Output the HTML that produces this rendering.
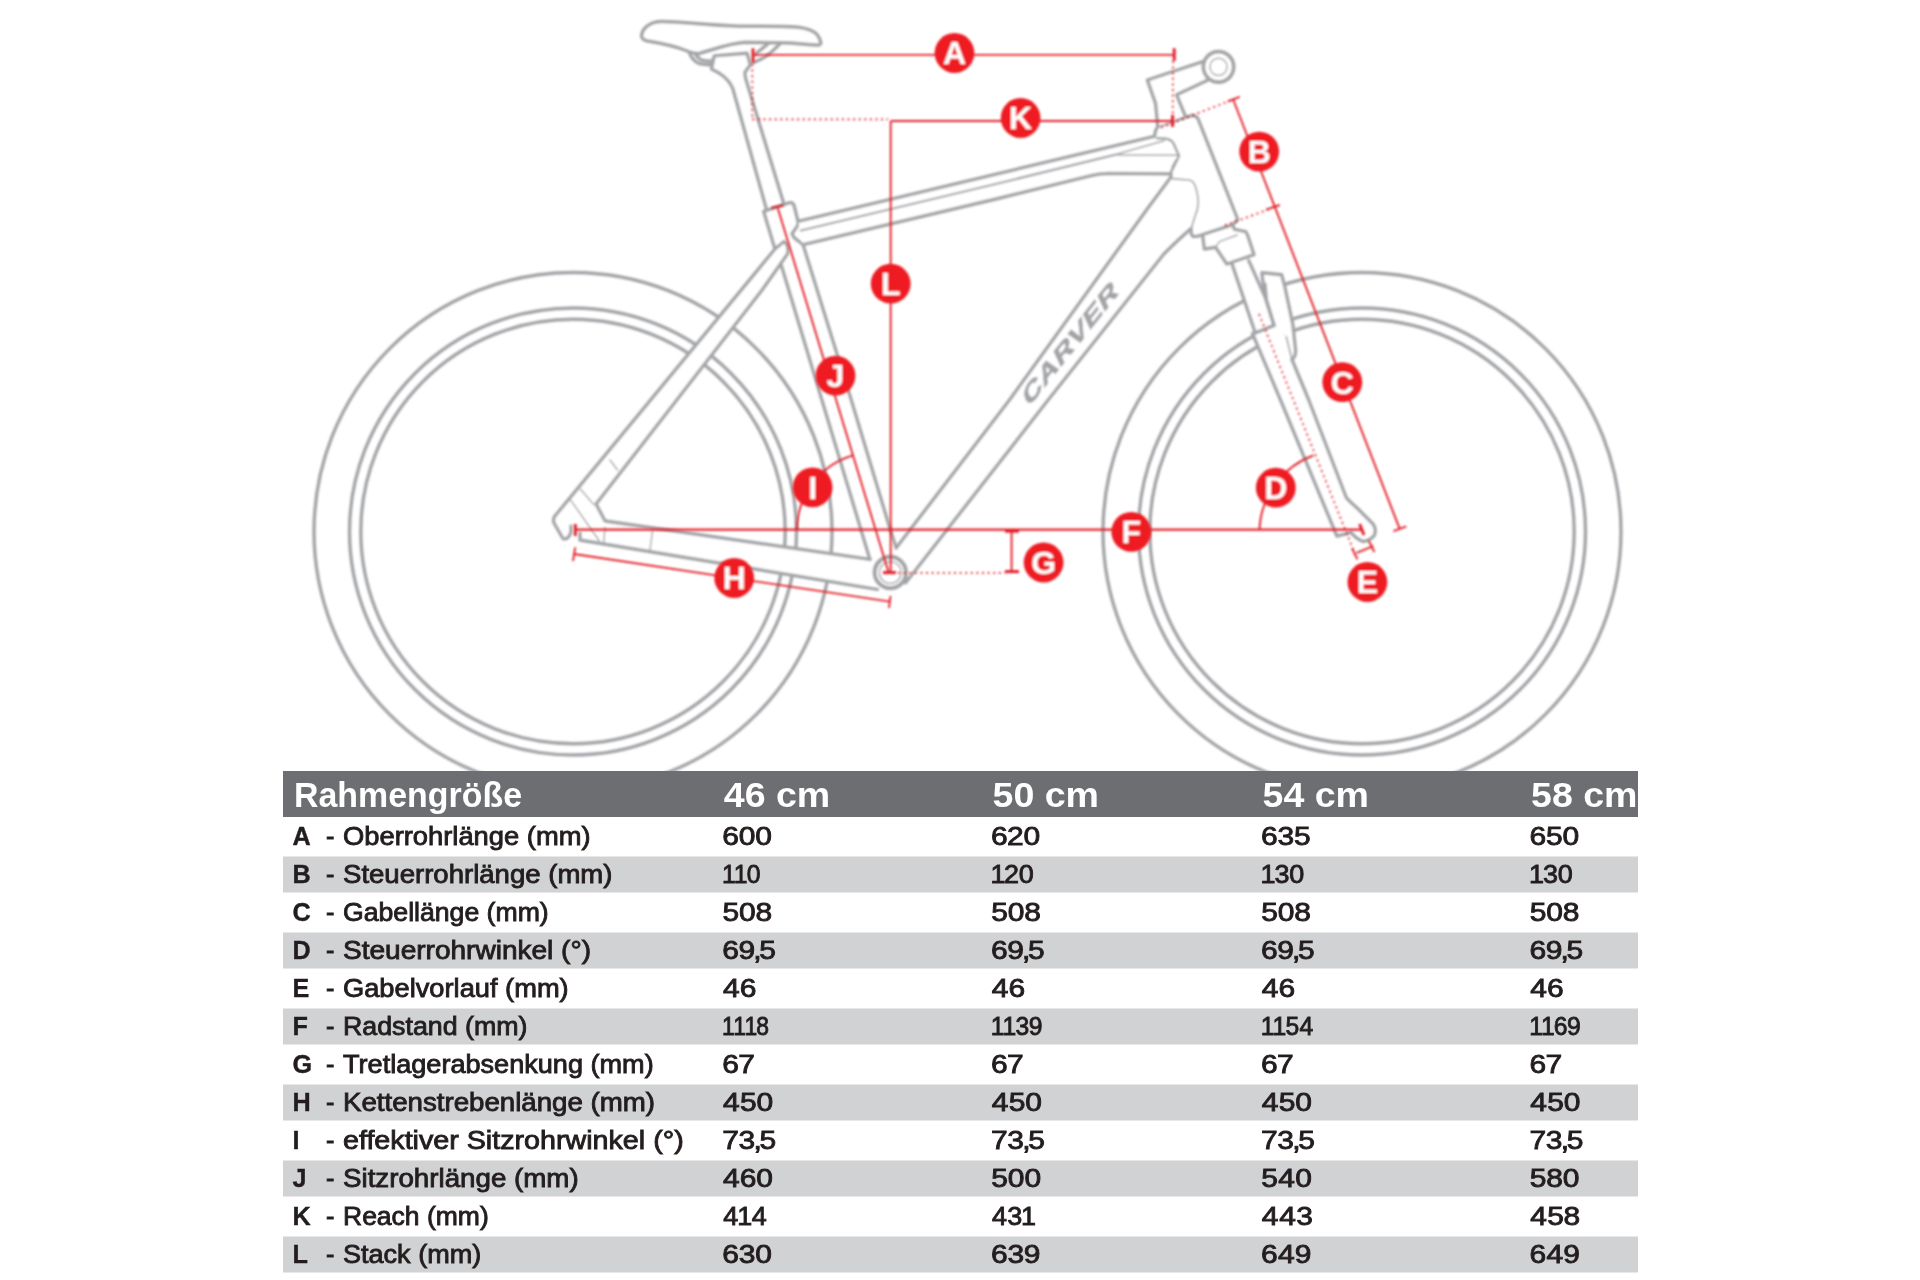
<!DOCTYPE html>
<html lang="de"><head><meta charset="utf-8"><title>Rahmengeometrie</title>
<style>
html,body{margin:0;padding:0;background:#fff;}
body{width:1920px;height:1280px;overflow:hidden;}
svg{display:block;font-family:"Liberation Sans",sans-serif;}
.g{fill:none;stroke:#a3a4a7;stroke-width:3.4;stroke-linejoin:round;stroke-linecap:round;}
.f{fill:#fff;}
.fl{fill:#fff;stroke:none;}
.w{fill:none;}
.t{fill:none;stroke:#a3a4a7;stroke-width:1.4;stroke-linecap:round;stroke-linejoin:round;}
.t2{fill:none;stroke:#a3a4a7;stroke-width:1.7;stroke-linecap:round;stroke-linejoin:round;}
.r{fill:none;stroke:#e3202a;stroke-width:1.9;}
.rt{fill:none;stroke:#e3202a;stroke-width:3;}
.rd{fill:none;stroke:#e3202a;stroke-width:1.7;stroke-dasharray:2 3.6;}
.rc{fill:#ee1c24;}
.rl{fill:#fff;font-weight:bold;font-size:32px;text-anchor:middle;}
.logo{fill:#a3a4a7;stroke:#a3a4a7;stroke-width:0.7px;font-weight:bold;font-size:22px;letter-spacing:0.6px;}
.th{fill:#fff;font-weight:bold;font-size:35px;}
.tb{fill:#231f20;font-weight:bold;font-size:25.2px;stroke:#231f20;stroke-width:0.4px;}
.td{fill:#231f20;font-size:25.2px;stroke:#231f20;stroke-width:0.85px;}
</style></head>
<body>
<svg width="1920" height="1280" viewBox="0 0 1920 1280">
<defs><filter id="soft" x="0" y="0" width="1920" height="1280" filterUnits="userSpaceOnUse"><feGaussianBlur stdDeviation="0.9"/></filter><filter id="soft2" x="0" y="0" width="1920" height="1280" filterUnits="userSpaceOnUse"><feGaussianBlur stdDeviation="0.45"/></filter></defs>
<rect width="1920" height="1280" fill="#fff"/>
<g id="bike" filter="url(#soft)">
<circle class="g w" cx="573" cy="531.5" r="259" />
<circle class="g w" cx="573" cy="531.5" r="223.5" />
<circle class="g w" cx="573" cy="531.5" r="212.2" />
<circle class="g w" cx="1362" cy="531.5" r="259" />
<circle class="g w" cx="1362" cy="531.5" r="223.5" />
<circle class="g w" cx="1362" cy="531.5" r="212.2" />
<path class="fl" d="M1252.5,333.5 L1280.6,400 L1336.9,536 L1349,533 L1351,532 Q1355,538 1363,541.5 Q1371,540 1374.5,535 Q1376.5,529 1373,524 L1368,519 L1357,508 Q1348,500 1346.2,497.5 L1308.7,400 L1291.9,359.5 L1286.3,336.6 L1274,325.3 L1256,332.3 Z" />
<path class="g" d="M1274,325.3 L1256,332.3 L1252.5,333.5 L1280.6,400 L1336.9,536 L1349,533 L1351,532 Q1355,538 1363,541.5 Q1371,540 1374.5,535 Q1376.5,529 1373,524 L1368,519 L1357,508 Q1348,500 1346.2,497.5 L1308.7,400 L1291.9,359.5" />
<path class="fl" d="M1231.9,263.4 L1255.3,332.8 L1274,325.3 L1264.7,296.2 L1248.7,260.6 Z" />
<path class="g" d="M1231.9,263.4 L1255.3,332.8" />
<path class="g" d="M1248.7,260.6 L1264.7,296.2" />
<path class="g" d="M1255.3,332.8 L1274,325.3" />
<path class="fl" d="M1261.9,272.8 L1281.6,274.7 L1284.4,285 L1292.8,324.4 L1295.6,350.6 Q1295.6,357 1291.9,359.5 L1286.3,336.6 L1274,325.3 L1264.7,296 Z" />
<path class="g" d="M1274,325.3 L1264.7,296 L1261.9,272.8 L1281.6,274.7 L1284.4,285 L1292.8,324.4 L1295.6,350.6 Q1295.6,357 1291.9,359.5" />
<path class="g" d="M1264.9,284 L1266.5,300 L1274,325.3" />
<line class="t2" x1="1286.3" y1="336.6" x2="1291.3" y2="357" />
<path class="g f" d="M1202.5,234.5 L1232.5,224.7 L1234.4,229.4 L1245.6,231.7 L1247.5,235 L1254,254.7 L1226.9,264 L1215.6,247.2 L1204.4,249 L1203,237.8 Z" />
<path class="t" d="M1215.6,247.2 L1219.4,241.6 L1237.2,235" />
<path class="g f" d="M733,89 L767,211 L784,204.5 L746,80 Q744.5,75 745,72 L750.3,64.7 L747,53.2 L714.2,55.9 L711.5,69 Q718,72 722,75 Q730,81 733,89 Z" />
<path class="g" d="M689,51.6 Q691,58 695.6,61.4 Q699,65 711,64.7" />
<path class="g" d="M694.5,52.7 Q696,56 700,59.2 Q703,61.4 712,60.9" />
<path class="g" d="M767.8,43.9 L755.8,53.7" />
<path class="g" d="M779.8,43.9 Q772,52 766.7,55.9 Q760,60 753.6,62.5" />
<path class="g f" d="M641.6,36 C642,28 650,21.6 662,21.5 C680,21.5 700,24.6 740,26.3 L783,26.4 C800,26.4 812,28.5 817,34.5 C821,40 822,44.8 818.5,45 C810,45 795,42.9 783,42.8 L745,42.3 C730,43 715,49 700,53.2 C695,54.2 690,52.2 686,50.5 C675,46 660,43 648,41 C643,40 641.6,38.5 641.6,36 Z" style="stroke-width:3.5"/>
<path class="fl" d="M605,521 L870,559.4 L885,590 L877.5,589.4 L580,540 L571,527 Z" />
<path class="g" d="M580,533 L580,540 L877.5,589.4" />
<path class="fl" d="M763.75,211.4 L789,202.8 Q793,202 794,205.5 L798,221.5 Q798.5,225 796,228 L792,233.4 Q793,238 798.4,241 L803,244.7 L851.2,400 L890.6,531 L896.2,548 L870,559.4 L781.6,266 L775,249 Z" />
<path class="g" d="M870,559.4 L781.6,266 L775,249 L763.75,211.4 L789,202.8 Q793,202 794,205.5 L798,221.5 Q798.5,225 796,228 L792,233.4 Q793,238 798.4,241 L803,244.7 L851.2,400 L890.6,531 L896.2,548" />
<path class="fl" d="M798,221.3 L1154.5,136.3 L1155.6,130.8 L1157.8,126.4 L1191.7,115.5 Q1196,115.5 1198,118.8 L1237.7,219.5 L1232.5,224.7 L1202.5,234.5 L1197,236.4 L1193,236.4 Q1190.5,234 1191.2,228.4 Q1180,238 1164,253.7 L1048,400 L905.6,582.8 L896.2,548 L1009.5,400 L1148,208 Q1160,192 1171,177 L1171,173.8 L1108,173.4 Q1098,173.6 1090,175.8 L1000,198 L803,244.7 Z" />
<path class="g" d="M798,221.3 L1154.5,136.3 L1155.6,130.8 L1157.8,126.4 L1191.7,115.5 Q1196,115.5 1198,118.8 L1237.7,219.5 L1232.5,224.7 L1202.5,234.5 L1197,236.4 L1193,236.4 Q1190.5,234 1191.2,228.4 Q1180,238 1164,253.7 L1048,400 L905.6,582.8" />
<path class="g" d="M896.2,548 L1009.5,400 L1148,208 Q1160,192 1171,177 L1171,173.8 L1108,173.4 Q1098,173.6 1090,175.8 L1000,198 L803,244.7" />
<path class="g" d="M801,230.5 L1000,183 L1114.6,154.8" style="stroke-width:2.3"/>
<path class="t2" d="M1114.6,154.8 L1164,140.8" />
<path class="t" d="M1114.6,155 L1178.6,155.3" />
<path class="g" d="M1157,138.3 Q1165,138 1169,139.4 Q1172,140.5 1173.3,143 L1179,155.8 L1175,164.2 L1170.8,172.5 L1171,177" style="stroke-width:2.6"/>
<path class="t2" d="M1171,172 Q1172,166 1176,160" />
<path class="t2" d="M1172,178.7 Q1180,179.7 1189.4,180 Q1193,181 1194,183.4 Q1197.5,190 1198.3,202 Q1198,210 1195,216.3 L1191.2,228.4" />
<path class="g f" d="M1157.8,126.4 L1155.6,103.4 L1147.4,80 L1203.7,61.3 L1208,80 L1176.4,94.7 L1185,115.5" />
<circle class="g f" cx="1218.5" cy="66.8" r="15.2" style="stroke-width:3.8"/>
<circle class="t" cx="1218.5" cy="66.8" r="8.6" />
<path class="fl" d="M775,249 L784,241.5 Q789.5,245 787.5,254 L762,290 L596,504 L605,521 L571,527 L571,532 Q568,540 563,538.5 L553.8,522.5 Q553,518 555,516 Z" />
<path class="g" d="M571,526 L571,532 Q568,540.5 563,538.5 L553.8,522.5 Q553,518 555,516 L775,249 L784,241.5 Q789.5,245 787.5,254 L762,290 L596,504 L605,521 L870,559.4" />
<path class="t" d="M570.8,500.3 L599.4,541" />
<path class="t" d="M580.6,489.2 L593.8,504.6" />
<path class="t" d="M605,527.5 L603.7,542.5" />
<path class="t" d="M652.5,531 L650,550" />
<path class="t" d="M610,460 L617.5,470" />
<circle class="g f" cx="890.3" cy="572.5" r="15.7" style="stroke-width:4.2"/>
<circle class="t" cx="890.3" cy="572.5" r="10.9" />
<text class="logo" transform="translate(1028.5,407.5) rotate(-51.5) scale(1.52,1) skewX(-18)" x="0" y="0">CARVER</text>
</g>
<g id="dims" filter="url(#soft)">
<line class="r" x1="753" y1="54.9" x2="1174.2" y2="54.9" />
<line class="rt" x1="753" y1="48.3" x2="753" y2="62.5" />
<line class="rt" x1="1174.2" y1="48.2" x2="1174.2" y2="60.8" />
<line class="rd" x1="752.3" y1="64" x2="752.3" y2="119.4" />
<line class="rd" x1="752.3" y1="119.4" x2="888" y2="119.4" />
<line class="rd" x1="1173" y1="61" x2="1172.7" y2="115" />
<line class="rt" x1="1172.6" y1="115" x2="1172.6" y2="127" />
<line class="r" x1="890.7" y1="121" x2="1172.6" y2="121" />
<line class="r" x1="890.7" y1="121" x2="890.7" y2="572.6" />
<line class="rt" x1="883" y1="572.6" x2="896" y2="572.6" />
<line class="r" x1="1233" y1="99" x2="1399.5" y2="528.4" />
<line class="r" x1="1227.8" y1="101.3" x2="1239.8" y2="96.9" />
<line class="r" x1="1266" y1="209.7" x2="1279.8" y2="205" />
<line class="r" x1="1393.5" y1="531.2" x2="1406.3" y2="526.3" />
<line class="rd" x1="1161" y1="127.5" x2="1234.4" y2="99" />
<line class="rd" x1="1225" y1="225.6" x2="1272.8" y2="207.8" />
<line class="rd" x1="1259" y1="314" x2="1355.6" y2="555.6" />
<path class="r" d="M1313.4,455.3 A83,83 0 0 0 1259.5,529.6" />
<line class="r" x1="1356.6" y1="552.8" x2="1373.4" y2="546.2" />
<line class="r" x1="1351.9" y1="548" x2="1357.5" y2="559.4" />
<line class="r" x1="1368.7" y1="540.6" x2="1374.4" y2="552" />
<line class="r" x1="575" y1="529.7" x2="1361.2" y2="529.7" style="stroke-width:2.3"/>
<line class="rt" x1="575.3" y1="524" x2="575.3" y2="536" />
<line class="rt" x1="1359.6" y1="524" x2="1364" y2="535" />
<line class="r" x1="1011.6" y1="531" x2="1011.6" y2="571.6" />
<line class="rt" x1="1005" y1="531.2" x2="1019" y2="531.2" />
<line class="rt" x1="1005" y1="571.6" x2="1019" y2="571.6" />
<line class="rd" x1="898" y1="572.8" x2="1005" y2="572.8" />
<line class="r" x1="574" y1="554" x2="889.7" y2="601.6" />
<line class="r" x1="575.2" y1="547.5" x2="573" y2="561" />
<line class="r" x1="890.5" y1="596" x2="889" y2="608" />
<path class="r" d="M853.1,455.3 A78,78 0 0 0 797,529.6" />
<line class="r" x1="777.8" y1="208" x2="888.4" y2="571.8" />
<line class="r" x1="771.2" y1="208" x2="783.4" y2="205.3" />
<circle class="rc" cx="954.5" cy="53" r="19.9"/>
<text class="rl" x="954.5" y="64.4">A</text>
<circle class="rc" cx="1020.6" cy="118" r="19.9"/>
<text class="rl" x="1020.6" y="129.4">K</text>
<circle class="rc" cx="1259.2" cy="151.6" r="19.9"/>
<text class="rl" x="1259.2" y="163.0">B</text>
<circle class="rc" cx="890.7" cy="283.7" r="19.9"/>
<text class="rl" x="890.7" y="295.09999999999997">L</text>
<circle class="rc" cx="835.5" cy="375.7" r="19.9"/>
<text class="rl" x="835.5" y="387.09999999999997">J</text>
<circle class="rc" cx="1342.3" cy="382.2" r="19.9"/>
<text class="rl" x="1342.3" y="393.59999999999997">C</text>
<circle class="rc" cx="812.6" cy="487.3" r="19.9"/>
<text class="rl" x="812.6" y="498.7">I</text>
<circle class="rc" cx="1275.8" cy="487.7" r="19.9"/>
<text class="rl" x="1275.8" y="499.09999999999997">D</text>
<circle class="rc" cx="1131.3" cy="531.9" r="19.9"/>
<text class="rl" x="1131.3" y="543.3">F</text>
<circle class="rc" cx="1043.6" cy="562.5" r="19.9"/>
<text class="rl" x="1043.6" y="573.9">G</text>
<circle class="rc" cx="734.2" cy="578" r="19.9"/>
<text class="rl" x="734.2" y="589.4">H</text>
<circle class="rc" cx="1367.4" cy="582" r="19.9"/>
<text class="rl" x="1367.4" y="593.4">E</text>
</g>
<g id="table">
<rect x="283" y="771" width="1355" height="46" fill="#6d6e71"/>
<rect x="283" y="856.5" width="1355" height="36" fill="#d1d2d4"/>
<rect x="283" y="932.5" width="1355" height="36" fill="#d1d2d4"/>
<rect x="283" y="1008.5" width="1355" height="36" fill="#d1d2d4"/>
<rect x="283" y="1084.5" width="1355" height="36" fill="#d1d2d4"/>
<rect x="283" y="1160.5" width="1355" height="36" fill="#d1d2d4"/>
<rect x="283" y="1236.5" width="1355" height="36" fill="#d1d2d4"/>
<clipPath id="tc"><rect x="283" y="771" width="1355" height="509"/></clipPath>
<g clip-path="url(#tc)" filter="url(#soft2)">
<text class="th" x="294" y="806.5" textLength="228" lengthAdjust="spacingAndGlyphs">Rahmengröße</text>
<text class="th" x="723.75" y="806.5" textLength="106.5" lengthAdjust="spacingAndGlyphs">46 cm</text>
<text class="th" x="992.5" y="806.5" textLength="106.5" lengthAdjust="spacingAndGlyphs">50 cm</text>
<text class="th" x="1262.5" y="806.5" textLength="106.5" lengthAdjust="spacingAndGlyphs">54 cm</text>
<text class="th" x="1531" y="806.5" textLength="106.5" lengthAdjust="spacingAndGlyphs">58 cm</text>
<text class="tb" x="292.5" y="844.5">A</text>
<text class="td" x="326" y="844.5">-</text>
<text class="td" x="343" y="844.5" textLength="247.5" lengthAdjust="spacingAndGlyphs">Oberrohrlänge (mm)</text>
<text class="td" transform="translate(723.75,844.5) scale(1.19,1)" x="-1.28 12.58 26.56" y="0">600</text>
<text class="td" transform="translate(992.5,844.5) scale(1.19,1)" x="-1.28 12.29 25.99" y="0">620</text>
<text class="td" transform="translate(1262.5,844.5) scale(1.19,1)" x="-1.28 12.60 26.43" y="0">635</text>
<text class="td" transform="translate(1531,844.5) scale(1.19,1)" x="-1.28 12.55 26.46" y="0">650</text>
<text class="tb" x="292.5" y="882.5">B</text>
<text class="td" x="326" y="882.5">-</text>
<text class="td" x="343" y="882.5" textLength="269.5" lengthAdjust="spacingAndGlyphs">Steuerrohrlänge (mm)</text>
<text class="td" transform="translate(723.75,882.5) scale(0.98,1)" x="-1.92 10.27 23.40" y="0">110</text>
<text class="td" transform="translate(992.5,882.5) scale(1.07,1)" x="-1.92 10.81 24.51" y="0">120</text>
<text class="td" transform="translate(1262.5,882.5) scale(1.07,1)" x="-1.92 11.12 24.98" y="0">130</text>
<text class="td" transform="translate(1531,882.5) scale(1.07,1)" x="-1.92 11.12 24.98" y="0">130</text>
<text class="tb" x="292.5" y="920.5">C</text>
<text class="td" x="326" y="920.5">-</text>
<text class="td" x="343" y="920.5" textLength="205.7" lengthAdjust="spacingAndGlyphs">Gabellänge (mm)</text>
<text class="td" transform="translate(723.75,920.5) scale(1.19,1)" x="-1.01 12.90 26.76" y="0">508</text>
<text class="td" transform="translate(992.5,920.5) scale(1.19,1)" x="-1.01 12.90 26.76" y="0">508</text>
<text class="td" transform="translate(1262.5,920.5) scale(1.19,1)" x="-1.01 12.90 26.76" y="0">508</text>
<text class="td" transform="translate(1531,920.5) scale(1.19,1)" x="-1.01 12.90 26.76" y="0">508</text>
<text class="tb" x="292.5" y="958.5">D</text>
<text class="td" x="326" y="958.5">-</text>
<text class="td" x="343" y="958.5" textLength="248" lengthAdjust="spacingAndGlyphs">Steuerrohrwinkel (°)</text>
<text class="td" transform="translate(723.75,958.5) scale(1.19,1)" x="-1.28 12.38 24.87 29.86" y="0">69,5</text>
<text class="td" transform="translate(992.5,958.5) scale(1.19,1)" x="-1.28 12.38 24.87 29.86" y="0">69,5</text>
<text class="td" transform="translate(1262.5,958.5) scale(1.19,1)" x="-1.28 12.38 24.87 29.86" y="0">69,5</text>
<text class="td" transform="translate(1531,958.5) scale(1.19,1)" x="-1.28 12.38 24.87 29.86" y="0">69,5</text>
<text class="tb" x="292.5" y="996.5">E</text>
<text class="td" x="326" y="996.5">-</text>
<text class="td" x="343" y="996.5" textLength="225.7" lengthAdjust="spacingAndGlyphs">Gabelvorlauf (mm)</text>
<text class="td" transform="translate(723.75,996.5) scale(1.19,1)" x="-0.58 13.35" y="0">46</text>
<text class="td" transform="translate(992.5,996.5) scale(1.19,1)" x="-0.58 13.35" y="0">46</text>
<text class="td" transform="translate(1262.5,996.5) scale(1.19,1)" x="-0.58 13.35" y="0">46</text>
<text class="td" transform="translate(1531,996.5) scale(1.19,1)" x="-0.58 13.35" y="0">46</text>
<text class="tb" x="292.5" y="1034.5">F</text>
<text class="td" x="326" y="1034.5">-</text>
<text class="td" x="343" y="1034.5" textLength="184.5" lengthAdjust="spacingAndGlyphs">Radstand (mm)</text>
<text class="td" transform="translate(723.75,1034.5) scale(0.91,1)" x="-1.92 10.37 22.67 35.79" y="0">1118</text>
<text class="td" transform="translate(992.5,1034.5) scale(0.98,1)" x="-1.92 10.27 23.42 37.08" y="0">1139</text>
<text class="td" transform="translate(1262.5,1034.5) scale(0.98,1)" x="-1.92 10.27 23.37 37.69" y="0">1154</text>
<text class="td" transform="translate(1531,1034.5) scale(0.98,1)" x="-1.92 10.27 23.10 36.76" y="0">1169</text>
<text class="tb" x="292.5" y="1072.5">G</text>
<text class="td" x="326" y="1072.5">-</text>
<text class="td" x="343" y="1072.5" textLength="310.7" lengthAdjust="spacingAndGlyphs">Tretlagerabsenkung (mm)</text>
<text class="td" transform="translate(723.75,1072.5) scale(1.19,1)" x="-1.28 12.27" y="0">67</text>
<text class="td" transform="translate(992.5,1072.5) scale(1.19,1)" x="-1.28 12.27" y="0">67</text>
<text class="td" transform="translate(1262.5,1072.5) scale(1.19,1)" x="-1.28 12.27" y="0">67</text>
<text class="td" transform="translate(1531,1072.5) scale(1.19,1)" x="-1.28 12.27" y="0">67</text>
<text class="tb" x="292.5" y="1110.5">H</text>
<text class="td" x="326" y="1110.5">-</text>
<text class="td" x="343" y="1110.5" textLength="312" lengthAdjust="spacingAndGlyphs">Kettenstrebenlänge (mm)</text>
<text class="td" transform="translate(723.75,1110.5) scale(1.19,1)" x="-0.58 13.62 27.53" y="0">450</text>
<text class="td" transform="translate(992.5,1110.5) scale(1.19,1)" x="-0.58 13.62 27.53" y="0">450</text>
<text class="td" transform="translate(1262.5,1110.5) scale(1.19,1)" x="-0.58 13.62 27.53" y="0">450</text>
<text class="td" transform="translate(1531,1110.5) scale(1.19,1)" x="-0.58 13.62 27.53" y="0">450</text>
<text class="tb" x="292.5" y="1148.5">I</text>
<text class="td" x="326" y="1148.5">-</text>
<text class="td" x="343" y="1148.5" textLength="340.7" lengthAdjust="spacingAndGlyphs">effektiver Sitzrohrwinkel (°)</text>
<text class="td" transform="translate(723.75,1148.5) scale(1.19,1)" x="-1.29 12.43 25.00 29.99" y="0">73,5</text>
<text class="td" transform="translate(992.5,1148.5) scale(1.19,1)" x="-1.29 12.43 25.00 29.99" y="0">73,5</text>
<text class="td" transform="translate(1262.5,1148.5) scale(1.19,1)" x="-1.29 12.43 25.00 29.99" y="0">73,5</text>
<text class="td" transform="translate(1531,1148.5) scale(1.19,1)" x="-1.29 12.43 25.00 29.99" y="0">73,5</text>
<text class="tb" x="292.5" y="1186.5">J</text>
<text class="td" x="326" y="1186.5">-</text>
<text class="td" x="343" y="1186.5" textLength="235.7" lengthAdjust="spacingAndGlyphs">Sitzrohrlänge (mm)</text>
<text class="td" transform="translate(723.75,1186.5) scale(1.19,1)" x="-0.58 13.35 27.21" y="0">460</text>
<text class="td" transform="translate(992.5,1186.5) scale(1.19,1)" x="-1.01 12.90 26.88" y="0">500</text>
<text class="td" transform="translate(1262.5,1186.5) scale(1.19,1)" x="-1.01 13.30 27.53" y="0">540</text>
<text class="td" transform="translate(1531,1186.5) scale(1.19,1)" x="-1.01 12.79 26.65" y="0">580</text>
<text class="tb" x="292.5" y="1224.5">K</text>
<text class="td" x="326" y="1224.5">-</text>
<text class="td" x="343" y="1224.5" textLength="145.7" lengthAdjust="spacingAndGlyphs">Reach (mm)</text>
<text class="td" transform="translate(723.75,1224.5) scale(1.07,1)" x="-0.58 12.71 26.13" y="0">414</text>
<text class="td" transform="translate(992.5,1224.5) scale(1.07,1)" x="-0.58 13.67 26.59" y="0">431</text>
<text class="td" transform="translate(1262.5,1224.5) scale(1.19,1)" x="-0.58 14.05 28.30" y="0">443</text>
<text class="td" transform="translate(1531,1224.5) scale(1.19,1)" x="-0.58 13.62 27.42" y="0">458</text>
<text class="tb" x="292.5" y="1262.5">L</text>
<text class="td" x="326" y="1262.5">-</text>
<text class="td" x="343" y="1262.5" textLength="138.2" lengthAdjust="spacingAndGlyphs">Stack (mm)</text>
<text class="td" transform="translate(723.75,1262.5) scale(1.19,1)" x="-1.28 12.60 26.46" y="0">630</text>
<text class="td" transform="translate(992.5,1262.5) scale(1.19,1)" x="-1.28 12.60 26.26" y="0">639</text>
<text class="td" transform="translate(1262.5,1262.5) scale(1.19,1)" x="-1.28 12.98 27.01" y="0">649</text>
<text class="td" transform="translate(1531,1262.5) scale(1.19,1)" x="-1.28 12.98 27.01" y="0">649</text>
</g></g>
</svg>
</body></html>
